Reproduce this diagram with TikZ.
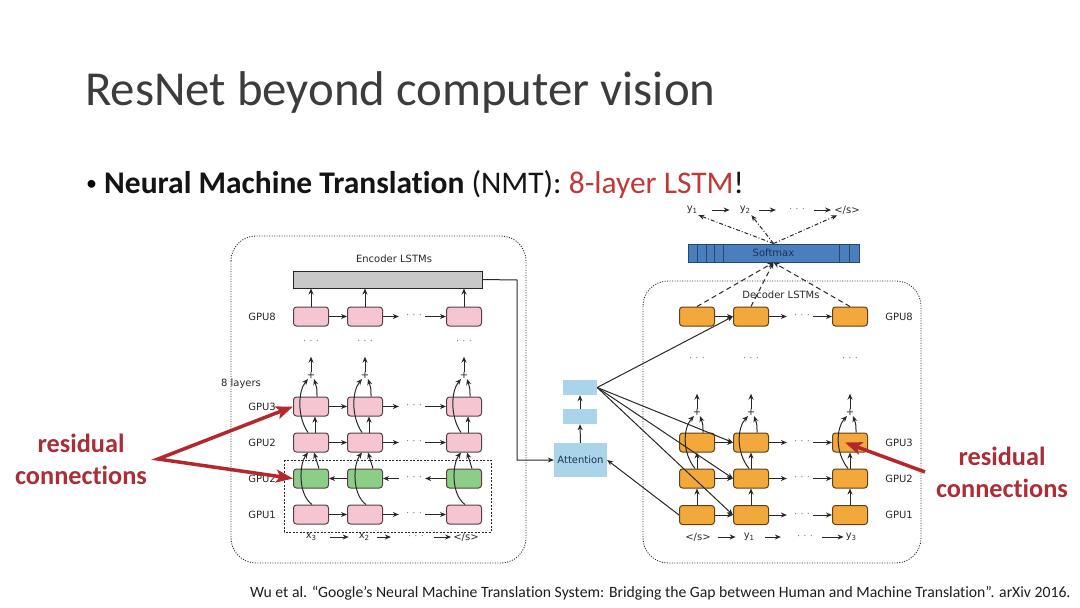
\documentclass[tikz,border=0pt]{standalone}
\usepackage{fontspec}
\setmainfont[Ligatures=NoCommon]{Carlito}
\newfontfamily\dv{DejaVu Sans}
\usetikzlibrary{arrows.meta,calc}
\definecolor{ink}{RGB}{40,40,40}
\definecolor{pinkf}{RGB}{245,198,210}
\definecolor{pinkd}{RGB}{85,65,70}
\definecolor{greenf}{RGB}{140,205,135}
\definecolor{orangef}{RGB}{242,168,58}
\definecolor{oranged}{RGB}{95,65,25}
\definecolor{lblue}{RGB}{170,212,234}
\definecolor{smblue}{RGB}{74,127,190}
\definecolor{smdark}{RGB}{40,70,110}
\definecolor{navy}{RGB}{30,50,85}
\definecolor{resred}{RGB}{170,45,55}
\definecolor{arrred}{RGB}{180,40,45}
\definecolor{hl}{RGB}{192,57,57}
\definecolor{titleg}{RGB}{60,60,60}
\definecolor{barg}{RGB}{200,200,200}
\newcommand{\mysub}[1]{\raisebox{-2.5pt}{\fontsize{7}{8}\selectfont #1}}
\tikzset{
  cell/.style={rectangle, rounded corners=3pt, minimum width=35pt, minimum height=19pt, draw=pinkd, line width=1pt, inner sep=0pt},
  pcell/.style={cell, fill=pinkf},
  gcell/.style={cell, fill=greenf},
  ocell/.style={cell, fill=orangef, draw=oranged},
  lab/.style={font=\dv\fontsize{10}{12}\selectfont, text=ink, inner sep=1pt},
  dts/.style={font=\dv\fontsize{10}{12}\selectfont, text=gray, inner sep=3pt},
  arr/.style={-{Stealth[length=6pt,width=5pt]}, draw=ink, line width=1pt},
  dasharr/.style={arr, dash pattern=on 5pt off 3.5pt},
  dotarr/.style={arr, dash pattern=on 4pt off 2pt on 1pt off 2pt},
  frame/.style={draw=ink, line width=0.9pt, dash pattern=on 1pt off 1.5pt, rounded corners=25pt},
  redarr/.style={draw=arrred, line width=3.5pt, {Stealth[length=17pt,width=13pt,inset=4pt]}-{Stealth[length=17pt,width=13pt,inset=4pt]}},
  redarr1/.style={draw=arrred, line width=3.5pt, -{Stealth[length=17pt,width=13pt,inset=4pt]}},
  restext/.style={font=\fontsize{26.3}{32}\selectfont\bfseries, text=resred, align=center},
}
\begin{document}
\begin{tikzpicture}[x=1pt,y=-1pt]
\useasboundingbox[fill=white] (0,0) rectangle (1080,608);

% title and bullet
\node[anchor=base west, inner sep=0, text=titleg, font=\fontsize{48.8}{58}\selectfont] (title) at (85,105) {ResNet beyond computer vision};
\node[anchor=base west, inner sep=0, font=\fontsize{22}{26}\selectfont] (bul) at (86,190) {•};
\node[anchor=base west, inner sep=0, font=\fontsize{31.5}{38}\selectfont, text={rgb,255:red,20;green,20;blue,20}] (btext) at (104,193) {\textbf{Neural Machine Translation} (NMT): \textcolor{hl}{8-layer LSTM}!};

% frames
\draw[frame] (231,236) rectangle (526,563);
\draw[frame] (643,281) rectangle (921,563);
\draw[draw=ink, line width=0.9pt, dash pattern=on 2pt off 1.5pt] (284,460) rectangle (491,532);

% encoder
\node[lab] (enclab) at (394,259) {Encoder LSTMs};
\node[rectangle, draw=ink, fill=barg, line width=1pt, minimum width=189pt, minimum height=17pt, inner sep=0] (bar) at (387.5,279.5) {};
\foreach \i/\x in {1/311,2/365,3/464}{
  \node[pcell] (e8\i) at (\x,316.5) {};
  \node[pcell] (e3\i) at (\x,406.5) {};
  \node[pcell] (e2\i) at (\x,442.5) {};
  \node[gcell] (eg\i) at (\x,478.5) {};
  \node[pcell] (e1\i) at (\x,514.5) {};
  \node[dts] (ev\i) at (\x,342) {· · ·};
  \node[lab, inner sep=0] (ep\i) at (\x,375) {+};
}
\foreach \r/\y in {e8/316.5,e3/406.5,e2/442.5,eg/478.5,e1/514.5}{
  \node[dts] (\r d) at (414,\y) {· · ·};
}
\foreach \r in {e8,e3,e2,e1}{
  \draw[arr] (\r1.east) -- (\r2.west);
  \draw[arr, shorten >=4pt] (\r2.east) -- (\r d.west);
  \draw[arr] (\r d.east) -- (\r3.west);
}
\draw[arr] (eg2.west) -- (eg1.east);
\draw[arr, shorten <=4pt] (egd.west) -- (eg2.east);
\draw[arr] (eg3.west) -- (egd.east);

\foreach \i in {1,2,3}{
  \draw[arr] (e8\i.north) -- (e8\i.north |- bar.south);
  \draw[arr] (ep\i.north) -- ++(0,-15);
  \draw[arr] ($(e2\i.north)+(-3,0)$) .. controls ($(e2\i.north)+(-14,-16)$) and ($(ep\i.center)+(-13,16)$) .. ($(ep\i.center)+(-3,4)$);
  \draw[arr] ($(e3\i.north)+(6,0)$) .. controls ($(e3\i.north)+(6,-8)$) .. ($(ep\i.center)+(3,4)$);
  \draw[arr] ($(e2\i.north)+(4,0)$) -- ($(e3\i.south)+(4,0)$);
  \draw[arr] ($(e1\i.north)+(1,0)$) .. controls ($(e1\i.north)+(-13,-10)$) and ($(e2\i.south)+(-12,12)$) .. ($(e2\i.south)+(-3,0)$);
  \draw[arr] ($(eg\i.north)+(8,0)$) -- ($(e2\i.south)+(3,0)$);
}
\node[lab] (g8) at (262,316.5) {GPU8};
\node[lab] (l8) at (241,384) {8 layers};
\node[lab] (g3) at (262,406.5) {GPU3};
\node[lab] (g2) at (262,442.5) {GPU2};
\node[lab] (g2b) at (262,478.5) {GPU2};
\node[lab] (g1) at (262,514.5) {GPU1};

\node[lab] (x3) at (311,537) {x\mysub{3}};
\node[lab] (x2) at (364,537) {x\mysub{2}};
\node[dts] (xd) at (416,537) {· · ·};
\node[lab] (xs) at (466,537) {</s>};
\draw[arr, shorten <=13pt, shorten >=9pt] (x3) -- (x2);
\draw[arr, shorten <=7pt, shorten >=14pt] (x2) -- (xd);
\draw[arr, shorten <=7pt, shorten >=1pt] (xd) -- (xs);

% attention
\node[rectangle, fill=lblue, minimum width=53pt, minimum height=34pt, inner sep=0, font=\dv\fontsize{10}{12}\selectfont, text=navy] (att) at (580.5,460) {Attention};
\node[rectangle, fill=lblue, minimum width=34pt, minimum height=15pt, inner sep=0] (ab1) at (580,416.5) {};
\node[rectangle, fill=lblue, minimum width=34pt, minimum height=15pt, inner sep=0] (ab2) at (580,387.5) {};
\draw[arr] (att.north) -- (ab1.south);
\draw[arr] (ab1.north) -- (ab2.south);
\coordinate (turn) at (517,280);
\draw[arr] (bar.east) -- (turn) |- (att.west);

% decoder
\node[lab] (declab) at (781,295) {Decoder LSTMs};
\foreach \i/\x in {1/697,2/751,3/850}{
  \node[ocell] (d8\i) at (\x,316.5) {};
  \node[ocell] (d3\i) at (\x,442.5) {};
  \node[ocell] (d2\i) at (\x,478.5) {};
  \node[ocell] (d1\i) at (\x,515) {};
  \node[dts] (dv\i) at (\x,359) {· · ·};
  \node[lab, inner sep=0] (dp\i) at (\x,412) {+};
}
\foreach \r/\y in {d8/316.5,d3/442.5,d2/478.5,d1/515}{
  \node[dts] (\r d) at (802,\y) {· · ·};
  \draw[arr] (\r1.east) -- (\r2.west);
  \draw[arr, shorten >=4pt] (\r2.east) -- (\r d.west);
  \draw[arr] (\r d.east) -- (\r3.west);
}
\foreach \i in {1,2,3}{
  \draw[arr] (dp\i.north) -- ++(0,-15);
  \draw[arr] (d1\i.north) -- (d2\i.south);
  \draw[arr] (d2\i.north) -- (d3\i.south);
  \draw[arr] ($(d2\i.north)+(-2,0)$) .. controls ($(d2\i.north)+(-15,-16)$) and ($(dp\i.center)+(-14,16)$) .. ($(dp\i.center)+(-3,4)$);
  \draw[arr] ($(d3\i.north)+(6,0)$) .. controls ($(d3\i.north)+(6,-8)$) .. ($(dp\i.center)+(3,4)$);
}
\node[lab] (h8) at (899,316.5) {GPU8};
\node[lab] (h3) at (899,442.5) {GPU3};
\node[lab] (h2) at (899,478.5) {GPU2};
\node[lab] (h1) at (899,515) {GPU1};

\node[lab] (ys) at (698,537) {</s>};
\node[lab] (y1) at (749,537) {y\mysub{1}};
\node[dts] (yd) at (805,537) {· · ·};
\node[lab] (y3) at (851,537) {y\mysub{3}};
\draw[arr, shorten <=6pt, shorten >=7pt] (ys) -- (y1);
\draw[arr, shorten <=10pt, shorten >=13pt] (y1) -- (yd);
\draw[arr, shorten <=6pt, shorten >=1pt] (yd) -- (y3);

% attention links
\draw[arr] (ab2.east) -- (d82.west);
\draw[arr] (ab2.east) -- (d32.west);
\draw[arr] (ab2.east) -- (d22.west);
\draw[arr] (ab2.east) -- (d12.west);
\draw[arr] (d11.west) -- (att.east);

% softmax
\node[rectangle, draw=smdark, fill=smblue, line width=1pt, minimum width=171pt, minimum height=18pt, inner sep=0, font=\dv\fontsize{10}{12}\selectfont, text=navy] (sm) at (773.5,253) {Softmax};
\foreach \dx in {10,19,27,36,152,162}{
  \draw[draw=smdark, line width=1pt] ([xshift=\dx pt]sm.south west) -- ([xshift=\dx pt]sm.north west);
}
\foreach \i in {1,2,3}{
  \draw[dasharr] (d8\i.north) -- (sm.south);
}
\node[lab] (ty1) at (692,210) {y\mysub{1}};
\node[lab] (ty2) at (745,210) {y\mysub{2}};
\node[dts] (tyd) at (797,210) {· · ·};
\node[lab] (tys) at (847,210) {</s>};
\draw[arr, shorten <=14pt, shorten >=9pt] (ty1) -- (ty2);
\draw[arr, shorten <=8pt, shorten >=10pt] (ty2) -- (tyd);
\draw[arr, shorten <=6pt, shorten >=2pt] (tyd) -- (tys);
\draw[dotarr] (sm.north) -- (ty1.south east);
\draw[dotarr] (sm.north) -- (ty2.south east);
\draw[dotarr] (sm.north) -- ([xshift=4pt]tys.south west);

% residual annotations
\node[restext] (resL) at (81,459) {residual\\connections};
\node[restext] (resR) at (1002,472) {residual\\connections};
\coordinate (rl) at (158,459);
\coordinate (rr) at (925,472);
\draw[redarr] (e31.west) -- (rl) -- (eg1.west);
\draw[redarr1] (rr) -- ([xshift=-5pt]d33.center);

% citation
\node[anchor=base west, inner sep=0, font=\fontsize{15.7}{18}\selectfont, text={rgb,255:red,30;green,30;blue,30}] (cite) at (250,597) {Wu et al. “Google's Neural Machine Translation System: Bridging the Gap between Human and Machine Translation”. arXiv 2016.};
\end{tikzpicture}
\end{document}
